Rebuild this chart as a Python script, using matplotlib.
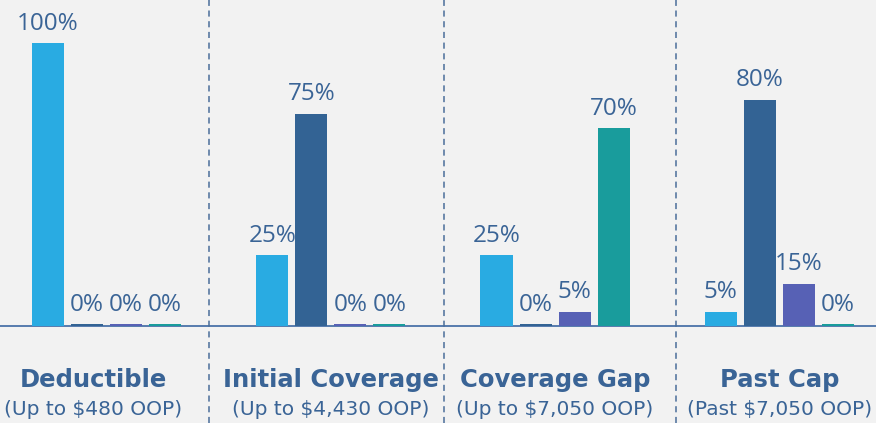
import numpy as np
import matplotlib.pyplot as plt

# coverage phases and who pays in each
phases = ['Deductible', 'Initial Coverage', 'Coverage Gap', 'Past Cap']
subtitles = ['(Up to $480 OOP)', '(Up to $4,430 OOP)', '(Up to $7,050 OOP)', '(Past $7,050 OOP)']
series_a = [100, 25, 25, 5]
series_b = [0, 75, 0, 80]
series_c = [0, 0, 5, 15]
series_d = [0, 0, 70, 0]

colors = ['#29ABE2', '#336394', '#5761B5', '#199C9C']
text_col = '#3A6496'
bg = '#F2F2F2'

fig = plt.figure(figsize=(8.76, 4.23), dpi=100, facecolor=bg)
ax = fig.add_axes([0, 0.2293, 1, 0.7707])
ax.set_facecolor(bg)

x = np.arange(len(phases))
step = 0.174
width = 0.143
all_series = [series_a, series_b, series_c, series_d]
for i, (vals, col) in enumerate(zip(all_series, colors)):
    pos = x + (i - 1.5) * step
    shown = [max(v, 0.7) for v in vals]  # zero bars still show as a thin stub
    ax.bar(pos, shown, width=width, color=col, zorder=3)
    for p, v, s in zip(pos, vals, shown):
        ax.text(p, s + 2.6, f'{v}%', ha='center', va='bottom', fontsize=17.5,
                family='Open Sans', color=text_col, zorder=4)

ax.set_xlim(-0.475, 3.431)
ax.set_ylim(0, 115.2)
ax.axhline(0, color='#4A72A8', lw=1.3, zorder=2, clip_on=False)
for s in ['top', 'right', 'left', 'bottom']:
    ax.spines[s].set_visible(False)
ax.set_xticks([])
ax.set_yticks([])

# dashed separators between phases, across the whole figure
for sx in [0.457, 1.505, 2.539]:
    xf = (sx + 0.475) / (3.431 + 0.475)
    fig.add_artist(plt.Line2D([xf, xf], [0, 1], transform=fig.transFigure,
                              color='#4A6E9A', lw=1.1, ls=(0, (4, 3))))

# first label sits a little left of its bars in the original
label_shift = [-0.058, 0, 0, 0]
for xi, dx, name, sub in zip(x, label_shift, phases, subtitles):
    ax.text(xi + dx, -0.165, name, transform=ax.get_xaxis_transform(), ha='center', va='center',
            fontsize=17.5, fontweight='bold', family='DejaVu Sans', color=text_col)
    ax.text(xi + dx, -0.255, sub, transform=ax.get_xaxis_transform(), ha='center', va='center',
            fontsize=14.5, family='DejaVu Sans', color=text_col)

fig.savefig('out.png', dpi=100, facecolor=bg)
